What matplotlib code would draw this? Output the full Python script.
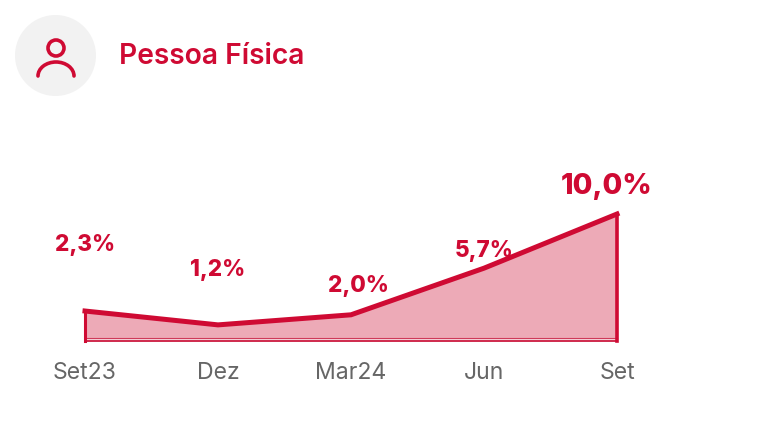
import matplotlib
matplotlib.use("Agg")
import matplotlib.pyplot as plt
from matplotlib.patches import Circle, Arc

categories = ["Set23", "Dez", "Mar24", "Jun", "Set"]
values = [2.3, 1.2, 2.0, 5.7, 10.0]
labels = ["2,3%", "1,2%", "2,0%", "5,7%", "10,0%"]
title = "Pessoa Física"

RED = "#cf0a33"
FILL = "#edaab7"
GREY = "#666666"
FONT = ["Inter", "DejaVu Sans"]
W, H = 768, 433

fig = plt.figure(figsize=(W / 100, H / 100), dpi=100, facecolor="white")

# Plot area
ax = fig.add_axes([85 / W, 1 - 340 / H, (617 - 85) / W, (340 - 214) / H])
xs = list(range(len(values)))
ax.set_xlim(0, 4)
ax.set_ylim(0, 10)
ax.patch.set_alpha(0)
for s in ax.spines.values():
    s.set_visible(False)
ax.fill_between(xs, values, 0, color=FILL, lw=0, clip_on=False)
ax.plot(xs, values, color=RED, lw=3.6, clip_on=False, solid_capstyle="projecting",
        solid_joinstyle="miter", zorder=3)
ax.plot([0, 0], [-0.1, values[0]], color=RED, lw=2.2, clip_on=False, zorder=3)
ax.plot([4, 4], [-0.1, values[-1]], color=RED, lw=2.6, clip_on=False, zorder=3)
ax.plot([0, 4], [0.05, 0.05], color="#f5d5dc", lw=1.0, clip_on=False, zorder=2)
ax.plot([0, 4], [0.14, 0.14], color="#cf3a5a", lw=0.8, clip_on=False, zorder=2)
ax.plot([0, 4], [-0.1, -0.1], color="#cf2a4d", lw=1.4, clip_on=False, zorder=2)
ax.set_yticks([])
ax.set_xticks(xs)
ax.set_xticklabels(categories, fontsize=16.6, color=GREY, family=FONT, fontweight="normal")
ax.tick_params(axis="x", length=0, pad=16)

# Value labels: offset in pixels from the data point
offsets = [(0, 66), (0, 55), (7, 29), (0, 17), (-10, 27)]
sizes = [16.2, 16.2, 16.2, 16.2, 20.6]
for x, v, lab, (dx, dy), fs in zip(xs, values, labels, offsets, sizes):
    ax.annotate(lab, (x, v), xytext=(dx * 0.72, dy * 0.72), textcoords="offset points",
                ha="center", va="center", fontsize=fs, fontweight=800, color=RED,
                family=FONT, annotation_clip=False, zorder=5)

# Header: overlay in pixel coordinates
hd = fig.add_axes([0, 0, 1, 1])
hd.set_xlim(0, W)
hd.set_ylim(H, 0)
hd.axis("off")
hd.patch.set_alpha(0)
hd.add_patch(Circle((55.5, 55.5), 40.5, facecolor="#f2f2f2", edgecolor="none"))
hd.add_patch(Circle((56, 48), 8, facecolor="none", edgecolor=RED, lw=2.6))
hd.add_patch(Arc((56, 76), 36, 28, theta1=180, theta2=360, edgecolor=RED, lw=2.6, capstyle="round"))
hd.text(119, 56, title, fontsize=20.3, fontweight="semibold", color=RED, family=FONT,
        ha="left", va="center")

fig.savefig("out.png", dpi=100)
